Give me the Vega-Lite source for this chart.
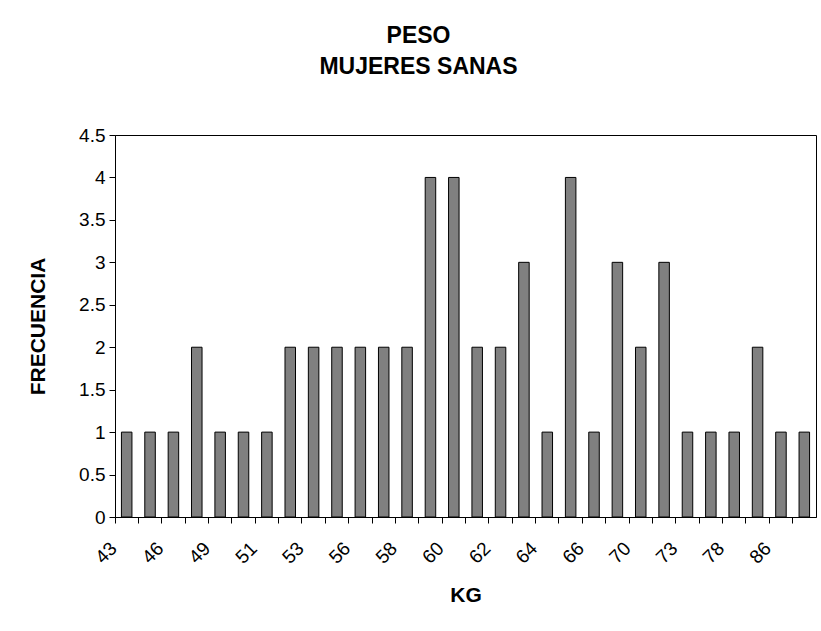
{
  "$schema": "https://vega.github.io/schema/vega-lite/v6.json",
  "width": 701,
  "height": 382,
  "autosize": "none",
  "padding": {"left": 115, "top": 135, "right": 5, "bottom": 114},
  "background": "white",
  "title": {
    "text": ["PESO", "MUJERES SANAS"],
    "font": "Liberation Sans",
    "fontSize": 23,
    "fontWeight": "bold",
    "color": "black",
    "lineHeight": 31,
    "anchor": "middle",
    "dx": -47,
    "offset": 47
  },
  "data": {
    "values": [
      {"kg": "43", "f": 1}, {"kg": "45", "f": 1}, {"kg": "46", "f": 1}, {"kg": "48", "f": 2},
      {"kg": "49", "f": 1}, {"kg": "50", "f": 1}, {"kg": "51", "f": 1}, {"kg": "52", "f": 2},
      {"kg": "53", "f": 2}, {"kg": "55", "f": 2}, {"kg": "56", "f": 2}, {"kg": "57", "f": 2},
      {"kg": "58", "f": 2}, {"kg": "59", "f": 4}, {"kg": "60", "f": 4}, {"kg": "61", "f": 2},
      {"kg": "62", "f": 2}, {"kg": "63", "f": 3}, {"kg": "64", "f": 1}, {"kg": "65", "f": 4},
      {"kg": "66", "f": 1}, {"kg": "68", "f": 3}, {"kg": "70", "f": 2}, {"kg": "71", "f": 3},
      {"kg": "73", "f": 1}, {"kg": "75", "f": 1}, {"kg": "78", "f": 1}, {"kg": "80", "f": 2},
      {"kg": "86", "f": 1}, {"kg": "88", "f": 1}
    ]
  },
  "mark": {"type": "bar", "width": {"band": 0.45}, "color": "#808080", "stroke": "black", "strokeWidth": 1},
  "encoding": {
    "x": {
      "field": "kg",
      "type": "nominal",
      "sort": null,
      "scale": {"paddingInner": 0, "paddingOuter": 0},
      "axis": {
        "title": "KG",
        "bandPosition": 0,
        "labelAngle": -45,
        "labelAlign": "right",
        "labelBaseline": "middle",
        "labelPadding": 22,
        "labelOffset": -13,
        "labelExpr": "indexof(['43','46','49','51','53','56','58','60','62','64','66','70','73','78','86'], datum.label) >= 0 ? datum.label : ''",
        "titleY": 78,
        "titleBaseline": "middle"
      }
    },
    "y": {
      "field": "f",
      "type": "quantitative",
      "scale": {"domain": [0, 4.5], "nice": false},
      "axis": {
        "title": "FRECUENCIA",
        "values": [0, 0.5, 1, 1.5, 2, 2.5, 3, 3.5, 4, 4.5],
        "format": ".1~f",
        "labelPadding": 4,
        "titleX": -77,
        "titleBaseline": "middle"
      }
    }
  },
  "config": {
    "view": {"stroke": "black", "strokeWidth": 1},
    "axis": {
      "grid": false,
      "domainColor": "black",
      "tickColor": "black",
      "tickSize": 6,
      "labelFont": "Liberation Sans",
      "labelFontSize": 19,
      "labelColor": "black",
      "labelOverlap": false,
      "labelFlush": false,
      "titleFont": "Liberation Sans",
      "titleFontSize": 21,
      "titleFontWeight": "bold",
      "titleColor": "black"
    }
  }
}
